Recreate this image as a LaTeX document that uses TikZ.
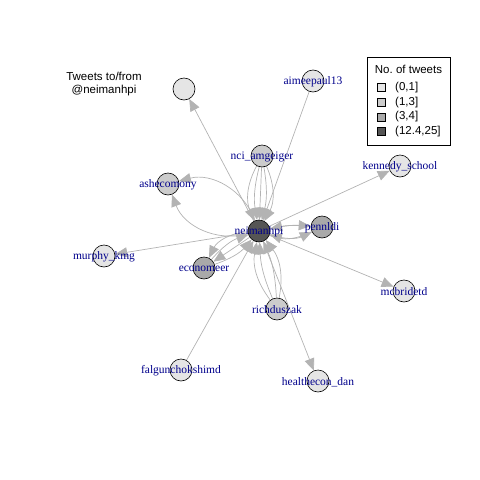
\documentclass[tikz,border=0pt]{standalone}
\usepackage{fontspec}
\setmainfont{Liberation Serif}
\setsansfont{Liberation Sans}
\usetikzlibrary{arrows.meta}
\definecolor{TweetEdge}{HTML}{B3B3B3}
\definecolor{TweetHandle}{HTML}{00008B}
\definecolor{TweetOne}{HTML}{E5E5E5}
\definecolor{TweetThree}{HTML}{CCCCCC}
\definecolor{TweetFour}{HTML}{A9A9A9}
\definecolor{TweetMany}{HTML}{555555}
\pgfdeclarelayer{background}
\pgfsetlayers{background,main}

\begin{document}
\begin{tikzpicture}[x=1pt,y=-1pt,
    user/.style={circle,draw=black,line width=0.6pt,minimum size=22pt,inner sep=0pt},
    handle/.style={text=TweetHandle,font=\fontsize{11.5}{13}\selectfont,inner sep=0pt,yshift=-1pt},
    tweet/.style={draw=TweetEdge,line width=0.7pt,-{Triangle[length=12pt,width=10pt]}},
    legendtext/.style={font=\sffamily\fontsize{11.5}{13}\selectfont,inner sep=0pt}]
      \useasboundingbox (0,0) rectangle (480,480);

      \node[legendtext,align=center] (title) at (104,84.5) {Tweets to/from\\@neimanhpi};

      % users, shaded by number of tweets
      \node[user,fill=TweetMany,label={[handle]center:neimanhpi}] (neimanhpi) at (259,231) {};
      \node[user,fill=TweetOne] (anon) at (184,89) {};
      \node[user,fill=TweetOne,label={[handle]center:aimeepaul13}] (aimeepaul) at (313,81) {};
      \node[user,fill=TweetThree,label={[handle]center:nci\_amgeiger}] (amgeiger) at (262,156) {};
      \node[user,fill=TweetThree,label={[handle]center:ashecomony}] (ashecomony) at (168,184) {};
      \node[user,fill=TweetOne,label={[handle]center:kennedy\_school}] (kennedy) at (400,166) {};
      \node[user,fill=TweetFour,label={[handle]center:pennldi}] (pennldi) at (322,227) {};
      \node[user,fill=TweetOne,label={[handle]center:murphy\_kmg}] (murphy) at (104,256) {};
      \node[user,fill=TweetFour,label={[handle]center:economeer}] (economeer) at (204,268) {};
      \node[user,fill=TweetThree,label={[handle]center:richduszak}] (richduszak) at (277,309) {};
      \node[user,fill=TweetOne,label={[handle]center:mcbridetd}] (mcbridetd) at (404,291) {};
      \node[user,fill=TweetOne,label={[handle]center:falgunchokshimd}] (falgun) at (181,370) {};
      \node[user,fill=TweetOne,label={[handle]center:healthecon\_dan}] (healthecon) at (318,381) {};

      % tweets between users
      \begin{pgfonlayer}{background}
      \draw[tweet] (neimanhpi) -- (anon);
      \draw[tweet] (aimeepaul) -- (neimanhpi);
      \draw[tweet] (neimanhpi) -- (kennedy);
      \draw[tweet] (neimanhpi) -- (mcbridetd);
      \draw[tweet] (neimanhpi) -- (murphy);
      \draw[tweet] (neimanhpi) -- (healthecon);
      \draw[tweet] (falgun) -- (neimanhpi);
      \foreach \b in {-26,-12,0,12,26}
        \draw[tweet] (amgeiger) to[bend left=\b] (neimanhpi);
      \foreach \b in {-42,42}
        \draw[tweet] (neimanhpi) to[bend left=\b] (ashecomony);
      \foreach \b in {-22,8}
        \draw[tweet] (neimanhpi) to[bend left=\b] (pennldi);
      \foreach \b in {-8,22}
        \draw[tweet] (pennldi) to[bend left=\b] (neimanhpi);
      \foreach \b in {-30,0}
        \draw[tweet] (neimanhpi) to[bend left=\b] (economeer);
      \foreach \b in {-15,15}
        \draw[tweet] (economeer) to[bend left=\b] (neimanhpi);
      \foreach \b in {-24,-10,10,24}
        \draw[tweet] (richduszak) to[bend left=\b] (neimanhpi);
      \end{pgfonlayer}

      % legend
      \draw[black,line width=0.6pt] (367,57) rectangle (450,145);
      \node[legendtext] (legtitle) at (408.5,69) {No.\ of tweets};
      \foreach \shade/\range [count=\i] in {TweetOne/{(0,1]},TweetThree/{(1,3]},TweetFour/{(3,4]},TweetMany/{(12.4,25]}} {
        \fill[\shade,draw=black,line width=0.5pt] (377.5,83.5+14.7*\i-14.7) rectangle ++(8,8);
        \node[legendtext,anchor=west] (leg\i) at (395,87.5+14.7*\i-14.7) {\range};
      }
    \end{tikzpicture}
\end{document}
